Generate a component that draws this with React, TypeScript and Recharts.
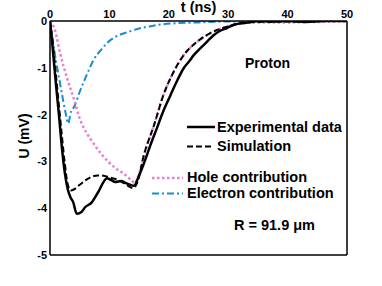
import React from 'react';
import { LineChart, Line, XAxis, YAxis } from 'recharts';

const xTicks = [0, 10, 20, 30, 40, 50];
const yTicks = [0, -1, -2, -3, -4, -5];

const expT = [0, 0.5, 1, 1.5, 2, 2.5, 3, 3.5, 3.9, 4.5, 5.3, 5.9, 7, 8.1, 9.6, 10.3, 11, 12, 12.7, 13.5, 14.1, 15, 16.3, 17, 18, 19, 20.3, 21.5, 22.5, 23.5, 24.2, 25, 25.9, 27.6, 28.5, 29.8, 31, 33, 35, 38, 40, 43, 46, 50];
const expU = [0, -0.65, -1.35, -2.0, -2.7, -3.25, -3.6, -3.78, -3.87, -4.12, -4.08, -3.98, -3.88, -3.66, -3.36, -3.4, -3.44, -3.42, -3.46, -3.5, -3.52, -3.3, -2.87, -2.62, -2.29, -1.95, -1.58, -1.25, -1.01, -0.85, -0.73, -0.62, -0.51, -0.3, -0.22, -0.15, -0.08, -0.04, 0.0, -0.01, 0.0, -0.02, 0.0, 0.0];

const simT = [0, 0.5, 1, 1.5, 2, 2.5, 3, 3.5, 4, 5, 6, 7, 8, 8.7, 9.5, 10.5, 11.5, 12.5, 13.5, 14, 14.7, 15.8, 17.5, 19.1, 20.8, 22.5, 24.8, 27, 29.8, 32, 35, 40, 50];
const simU = [0, -0.5, -1.15, -1.8, -2.45, -3.05, -3.5, -3.62, -3.6, -3.5, -3.4, -3.33, -3.3, -3.3, -3.32, -3.36, -3.4, -3.47, -3.55, -3.57, -3.45, -2.87, -2.23, -1.58, -1.09, -0.73, -0.44, -0.26, -0.12, -0.05, -0.02, -0.01, 0];

const holeT = [0, 0.85, 1.7, 2.8, 3.9, 5.1, 6.2, 7.3, 8.5, 9.6, 11, 12.4, 13.5, 14.3, 14.9, 15.8, 17.5, 19.1, 20.8, 22.5, 24.8, 27, 29.8, 32.1, 35, 40, 45, 50];
const holeU = [0, -0.2, -0.69, -1.19, -1.62, -2.12, -2.4, -2.61, -2.82, -2.98, -3.14, -3.26, -3.38, -3.46, -3.3, -2.87, -2.23, -1.58, -1.09, -0.73, -0.44, -0.26, -0.12, -0.05, -0.03, -0.03, -0.02, -0.01];

const elecT = [0, 0.85, 1.5, 2, 2.6, 3.1, 3.4, 4.2, 5.1, 6.4, 7.3, 8.7, 9.6, 11, 13, 15, 17, 19, 21, 25, 30, 50];
const elecU = [0, -0.73, -1.2, -1.55, -1.95, -2.19, -2.0, -1.8, -1.48, -1.09, -0.84, -0.6, -0.47, -0.34, -0.24, -0.16, -0.11, -0.07, -0.05, -0.03, -0.01, 0];

const rows = (t: number[], u: number[]) => t.map((x, i) => ({ t: x, u: u[i] }));

const FONT = '"Liberation Sans", Arial, sans-serif';
const PINK = '#e77fd3';
const BLUE = '#1b8ccd';

const tickStyle = { fontSize: 11, fontWeight: 'bold', fill: '#000', fontFamily: FONT };
const axisLine = { stroke: '#000', strokeWidth: 1.5 };

const textStyle: React.CSSProperties = {
  position: 'absolute',
  fontFamily: FONT,
  fontWeight: 'bold',
  fontSize: 14.5,
  lineHeight: '16px',
  color: '#000',
  whiteSpace: 'nowrap',
};

function LegendLine({ x1, x2, y, stroke, width, dash }: { x1: number; x2: number; y: number; stroke: string; width: number; dash?: string }) {
  return (
    <svg style={{ position: 'absolute', left: 0, top: 0 }} width={382} height={286}>
      <line x1={x1} x2={x2} y1={y} y2={y} stroke={stroke} strokeWidth={width} strokeDasharray={dash} />
    </svg>
  );
}

export default function App() {
  return (
    <div style={{ position: 'absolute', left: 0, top: 0, width: 382, height: 286, background: '#fff' }}>
      <LineChart width={382} height={286} margin={{ top: 0, right: 35, bottom: 31, left: 0 }}>
        <XAxis
          xAxisId="t"
          orientation="top"
          type="number"
          dataKey="t"
          domain={[0, 50]}
          ticks={xTicks}
          height={21}
          tickSize={0}
          tickMargin={3}
          tick={tickStyle}
          axisLine={axisLine}
          tickLine={false}
          allowDataOverflow
          label={{ value: 't (ns)', position: 'insideTop', offset: 1.5, style: { fontSize: 14.5, fontWeight: 'bold', fill: '#000', fontFamily: FONT } }}
        />
        <XAxis
          xAxisId="b"
          orientation="bottom"
          type="number"
          dataKey="t"
          domain={[0, 50]}
          ticks={[10, 20, 30, 40]}
          height={1}
          mirror
          tick={false}
          tickSize={4}
          tickLine={{ stroke: '#000', strokeWidth: 1.2 }}
          axisLine={axisLine}
          allowDataOverflow
        />
        <YAxis
          yAxisId="u"
          type="number"
          domain={[-5, 0]}
          ticks={yTicks}
          width={50}
          tickSize={0}
          tickMargin={3}
          tick={tickStyle}
          axisLine={axisLine}
          tickLine={false}
          allowDataOverflow
          label={{ value: 'U (mV)', angle: -90, position: 'center', dx: -1, dy: -2, style: { fontSize: 14, fontWeight: 'bold', fill: '#000', fontFamily: FONT } }}
        />
        <YAxis
          yAxisId="r"
          orientation="right"
          type="number"
          domain={[-5, 0]}
          ticks={[-4, -3, -2, -1]}
          width={1}
          mirror
          tick={false}
          tickSize={4}
          tickLine={{ stroke: '#000', strokeWidth: 1.2 }}
          axisLine={axisLine}
          allowDataOverflow
        />
        <Line xAxisId="b" yAxisId="r" data={rows(expT, expU)} dataKey="u" stroke="none" dot={false} activeDot={false} legendType="none" isAnimationActive={false} />
        <Line xAxisId="t" yAxisId="u" data={rows(elecT, elecU)} dataKey="u" type="monotone" stroke={BLUE} strokeWidth={2} strokeDasharray="7 3 2 3" dot={false} isAnimationActive={false} />
        <Line xAxisId="t" yAxisId="u" data={rows(holeT, holeU)} dataKey="u" type="monotone" stroke={PINK} strokeWidth={2.5} strokeDasharray="2.5 2.5" dot={false} isAnimationActive={false} />
        <Line xAxisId="t" yAxisId="u" data={rows(simT, simU)} dataKey="u" type="monotone" stroke="#000" strokeWidth={2} strokeDasharray="6 3" dot={false} isAnimationActive={false} />
        <Line xAxisId="t" yAxisId="u" data={rows(expT, expU)} dataKey="u" type="monotone" stroke="#000" strokeWidth={2.5} dot={false} isAnimationActive={false} />
      </LineChart>
      <LegendLine x1={187} x2={215} y={127} stroke="#000" width={2.5} />
      <LegendLine x1={187} x2={214} y={146.5} stroke="#000" width={2} dash="6 3" />
      <LegendLine x1={152} x2={183} y={178} stroke={PINK} width={2.5} dash="2.5 2.5" />
      <LegendLine x1={152} x2={183} y={193.5} stroke={BLUE} width={2} dash="7 3 2 3" />
      <div style={{ ...textStyle, left: 217, top: 119 }}>Experimental data</div>
      <div style={{ ...textStyle, left: 217, top: 138 }}>Simulation</div>
      <div style={{ ...textStyle, left: 187, top: 168.5 }}>Hole contribution</div>
      <div style={{ ...textStyle, left: 187, top: 185 }}>Electron contribution</div>
      <div style={{ ...textStyle, left: 245, top: 55, fontSize: 14 }}>Proton</div>
      <div style={{ ...textStyle, left: 234, top: 217 }}>R = 91.9 μm</div>
    </div>
  );
}
